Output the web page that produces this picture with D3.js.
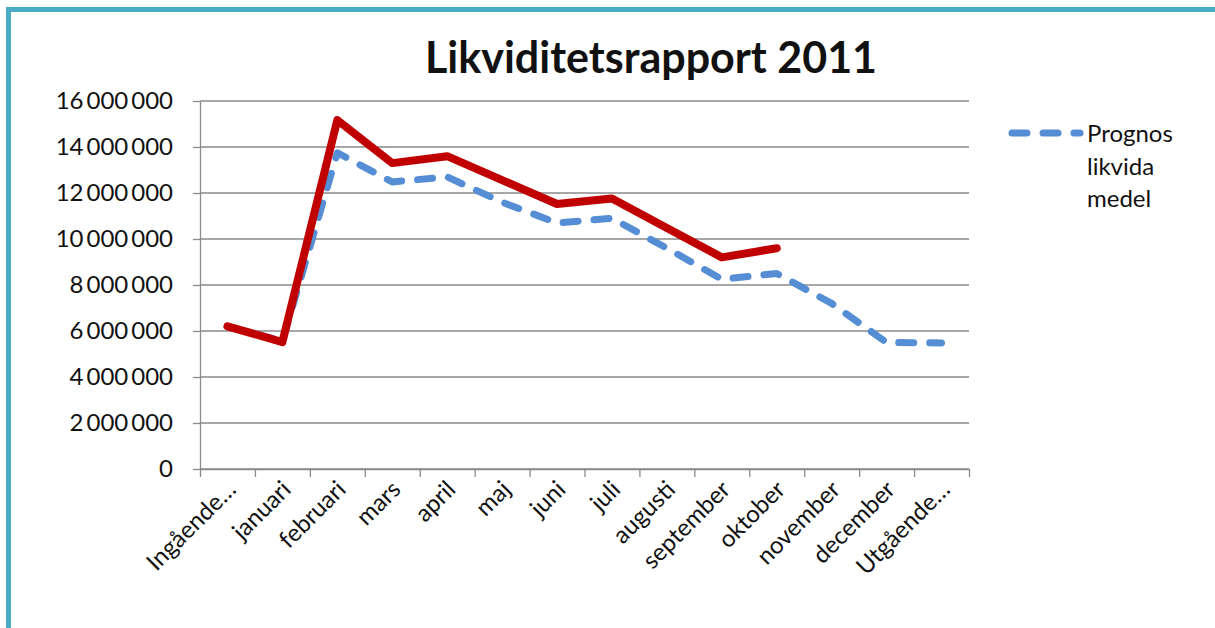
<!DOCTYPE html>
<html>
<head>
<meta charset="utf-8">
<script src="https://cdn.jsdelivr.net/npm/d3@7"></script>
<style>
  body { margin: 0; background: #fff; }
  text { font-family: Lato, "Open Sans", sans-serif; fill: #111; }
</style>
</head>
<body>
<div id="chart"></div>
<script>
// chart data
const categories = ["Ingående…", "januari", "februari", "mars", "april", "maj", "juni",
  "juli", "augusti", "september", "oktober", "november", "december", "Utgående…"];

// Prognos likvida medel (blue dashed)
const prognos = [6200000, 5550000, 13750000, 12480000, 12700000, 11600000, 10700000,
  10900000, 9600000, 8250000, 8500000, 7200000, 5500000, 5480000];

// outcome (red, no legend entry), stops at oktober
const utfall = [6200000, 5520000, 15170000, 13300000, 13600000, 12560000, 11520000,
  11760000, 10480000, 9200000, 9600000, null, null, null];

const yTicks = [0, 2000000, 4000000, 6000000, 8000000, 10000000, 12000000, 14000000, 16000000];

const svgWidth = 1215;
const svgHeight = 628;

const plot = { left: 200, right: 969, top: 101, bottom: 469 };

const svg = d3.select("#chart")
  .append("svg")
  .attr("width", svgWidth)
  .attr("height", svgHeight);

// teal frame, top and left
svg.append("rect")
  .attr("x", 6).attr("y", 7)
  .attr("width", svgWidth - 6).attr("height", 5)
  .attr("fill", "#4bacc6");
svg.append("rect")
  .attr("x", 6).attr("y", 7)
  .attr("width", 5).attr("height", svgHeight - 7)
  .attr("fill", "#4bacc6");

// title
svg.append("text")
  .attr("x", 651)
  .attr("y", 73)
  .attr("text-anchor", "middle")
  .style("font-size", "43px")
  .style("font-weight", "bold")
  .text("Likviditetsrapport 2011");

// scales
const xScale = d3.scaleBand()
  .domain(categories)
  .range([plot.left, plot.right])
  .padding(0);

const xEdges = d3.scaleLinear()
  .domain([0, categories.length])
  .range([plot.left, plot.right]);

const yScale = d3.scaleLinear()
  .domain([0, 16000000])
  .range([plot.bottom, plot.top]);

const fmt = d3.formatLocale({ decimal: ",", thousands: "\u2009", grouping: [3], currency: ["", ""] }).format(",");

// gridlines
svg.append("g")
  .selectAll("line")
  .data(yTicks)
  .enter()
  .append("line")
  .attr("x1", plot.left)
  .attr("x2", plot.right)
  .attr("y1", d => yScale(d))
  .attr("y2", d => yScale(d))
  .attr("stroke", "#8a8a8a")
  .attr("stroke-width", 1.3);

// y axis
const leftAxis = d3.axisLeft(yScale)
  .tickValues(yTicks)
  .tickSize(7)
  .tickSizeOuter(0)
  .tickPadding(20)
  .tickFormat(fmt);

const yAxis = svg.append("g")
  .attr("transform", `translate(${plot.left},0)`)
  .call(leftAxis);

// x axis, ticks at category edges
const bottomAxis = d3.axisBottom(xEdges)
  .tickValues(d3.range(categories.length + 1))
  .tickSize(8)
  .tickSizeOuter(0)
  .tickFormat("");

const xAxis = svg.append("g")
  .attr("transform", `translate(0,${plot.bottom})`)
  .call(bottomAxis);

svg.selectAll(".domain, .tick line")
  .attr("stroke", "#8a8a8a")
  .attr("stroke-width", 1.3);

yAxis.selectAll("text")
  .style("font-size", "24px")
  .style("font-family", "Lato, sans-serif")
  .attr("fill", "#111");

// rotated category labels
svg.append("g")
  .selectAll("text")
  .data(categories)
  .enter()
  .append("text")
  .attr("transform", d => `translate(${xScale(d) + xScale.bandwidth() / 2 + 4},${plot.bottom + 16}) rotate(-45)`)
  .attr("text-anchor", "end")
  .attr("dy", "0.35em")
  .style("font-size", "24px")
  .text(d => d);

// lines
const line = d3.line()
  .defined(d => d.value !== null)
  .x(d => xScale(d.cat) + xScale.bandwidth() / 2)
  .y(d => yScale(d.value));

const prognosData = categories.map((c, i) => ({ cat: c, value: prognos[i] }));
const utfallData = categories.map((c, i) => ({ cat: c, value: utfall[i] }));

svg.append("path")
  .datum(prognosData)
  .attr("d", line)
  .attr("fill", "none")
  .attr("stroke", "#558ed5")
  .attr("stroke-width", 7)
  .attr("stroke-dasharray", "15,16")
  .attr("stroke-linecap", "round")
  .attr("stroke-linejoin", "round");

svg.append("path")
  .datum(utfallData)
  .attr("d", line)
  .attr("fill", "none")
  .attr("stroke", "#c00000")
  .attr("stroke-width", 8)
  .attr("stroke-linecap", "round")
  .attr("stroke-linejoin", "round");

// legend, only the forecast series
const legend = svg.append("g");

legend.append("line")
  .attr("x1", 1012).attr("x2", 1080)
  .attr("y1", 133).attr("y2", 133)
  .attr("stroke", "#558ed5")
  .attr("stroke-width", 7)
  .attr("stroke-dasharray", "15,16")
  .attr("stroke-linecap", "round");

legend.selectAll("text")
  .data(["Prognos", "likvida", "medel"])
  .enter()
  .append("text")
  .attr("x", 1087)
  .attr("y", (d, i) => 142 + i * 32.5)
  .style("font-size", "24px")
  .text(d => d);
</script>
</body>
</html>
